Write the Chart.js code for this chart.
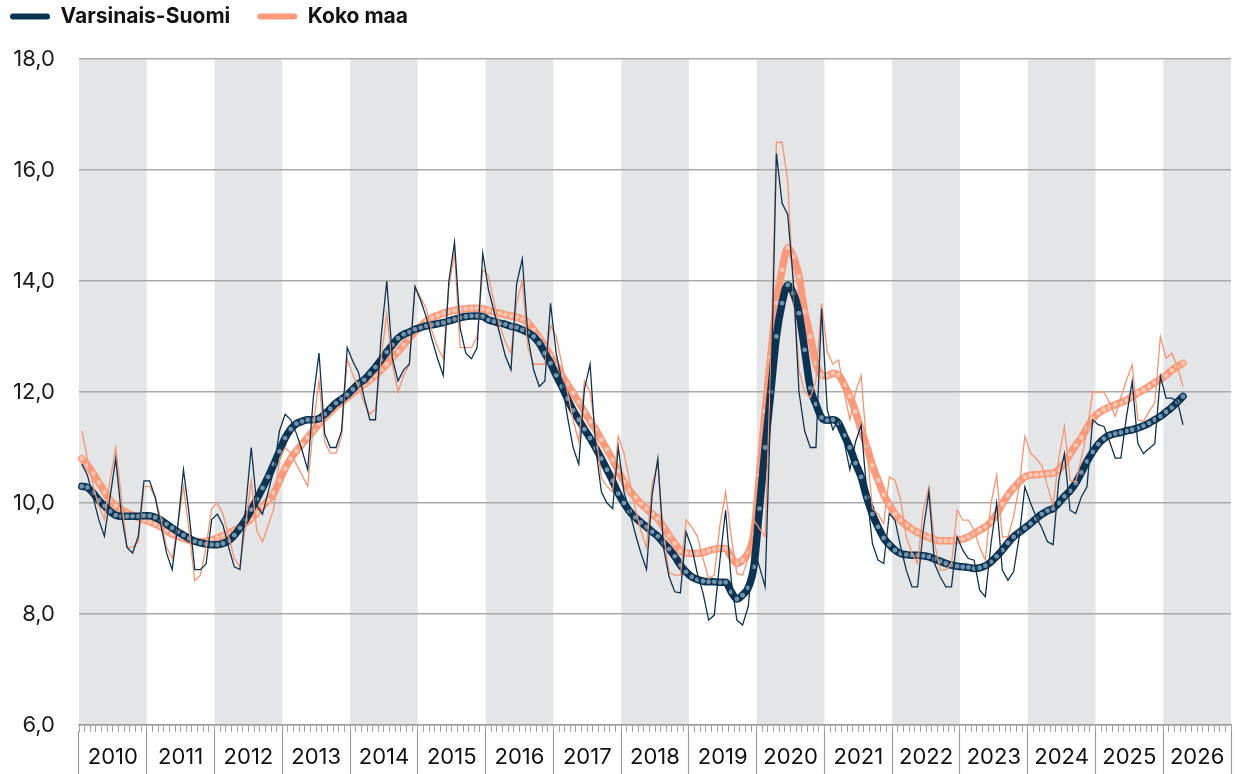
<!DOCTYPE html>
<html>
<head>
<meta charset="utf-8">
<script src="https://cdn.jsdelivr.net/npm/chart.js@4.4.1/dist/chart.umd.min.js"></script>
<style>
  html, body { margin: 0; padding: 0; background: #fff; }
  #wrap { position: relative; width: 1235px; height: 774px; }
</style>
</head>
<body>
<div id="wrap"><canvas id="unemploymentChart"></canvas></div>
<script>
  // years on the axis, data runs monthly from Jan 2010 to Apr 2026
  const yearLabels = ['2010', '2011', '2012', '2013', '2014', '2015', '2016', '2017', '2018',
                      '2019', '2020', '2021', '2022', '2023', '2024', '2025', '2026'];
  const monthNames = ['01', '02', '03', '04', '05', '06', '07', '08', '09', '10', '11', '12'];
  const monthLabels = yearLabels.flatMap(y => monthNames.map(m => y + '-' + m));

  const vsRaw = [
    10.7, 10.5, 10.1, 9.7, 9.4, 10.1, 10.8, 9.8, 9.2, 9.1, 9.4, 10.4,
    10.4, 10.1, 9.6, 9.1, 8.8, 9.6, 10.6, 9.8, 8.8, 8.8, 8.9, 9.7,
    9.8, 9.6, 9.2, 8.85, 8.8, 9.9, 11.0, 9.95, 9.8, 10.2, 10.6, 11.3,
    11.6, 11.5, 11.25, 10.95, 10.6, 11.9, 12.7, 11.25, 11.0, 11.0, 11.3, 12.8,
    12.55, 12.35, 11.9, 11.5, 11.5, 13.0, 14.0, 12.6, 12.2, 12.4, 12.5, 13.9,
    13.65, 13.35, 12.95, 12.6, 12.3, 14.0, 14.7, 13.15, 12.7, 12.6, 12.8, 14.5,
    13.85, 13.45, 13.05, 12.65, 12.4, 13.95, 14.4, 13.0, 12.4, 12.1, 12.2, 13.6,
    12.7, 12.2, 11.55, 11.0, 10.7, 12.05, 12.5, 11.0, 10.2, 10.0, 9.9, 11.0,
    10.2, 9.85, 9.45, 9.1, 8.8, 10.15, 10.8, 9.2, 8.67, 8.4, 8.38, 9.48,
    9.2, 8.73, 8.38, 7.89, 7.98, 8.97, 9.87, 8.6, 7.89, 7.8, 8.13, 9.2,
    8.85, 8.49, 11.8, 16.3, 15.4, 15.2, 14.0, 12.0, 11.3, 11.0, 11.0, 13.5,
    11.68, 11.32, 11.5, 11.1, 10.6, 11.1, 11.4, 10.2, 9.27, 8.97, 8.91, 9.81,
    9.69, 9.21, 8.79, 8.49, 8.49, 9.51, 10.2, 8.91, 8.67, 8.49, 8.49, 9.39,
    9.15, 9.0, 8.97, 8.43, 8.31, 9.27, 10.0, 8.79, 8.61, 8.76, 9.39, 10.29,
    10.0, 9.75, 9.55, 9.3, 9.25, 10.41, 10.89, 9.87, 9.81, 10.11, 10.29, 11.5,
    11.41, 11.38, 11.11, 10.81, 10.81, 11.56, 12.19, 11.07, 10.89, 10.98, 11.07, 12.28,
    11.89, 11.89, 11.83, 11.41
  ];

  const kmRaw = [
    11.3, 10.8, 10.3, 9.95, 9.7, 10.4, 11.0, 10.1, 9.2, 9.2, 9.3, 10.3,
    10.3, 10.1, 9.7, 9.2, 9.0, 9.6, 10.3, 9.5, 8.6, 8.7, 9.2, 9.9,
    10.0, 9.8, 9.4, 9.0, 8.85, 9.6, 10.4, 9.5, 9.3, 9.6, 9.9, 10.8,
    11.0, 10.9, 10.7, 10.5, 10.3, 11.4, 12.2, 11.1, 10.9, 10.9, 11.2, 12.6,
    12.3, 12.1, 11.8, 11.6, 11.7, 12.6, 13.4, 12.5, 12.0, 12.3, 12.5, 13.9,
    13.7, 13.5, 13.1, 12.8, 12.6, 13.9, 14.5, 12.8, 12.8, 12.8, 13.0, 14.2,
    14.1, 13.6, 13.2, 12.9, 12.7, 13.6, 14.0, 12.8, 12.5, 12.5, 12.5, 13.2,
    13.0, 12.5, 12.0, 11.5, 11.1, 12.2, 12.0, 11.3, 10.45, 10.3, 10.2, 11.2,
    10.9, 10.4, 9.9, 9.5, 9.2, 10.35, 10.7, 9.45, 8.75, 8.7, 8.7, 9.7,
    9.57, 9.4, 9.0, 8.64, 8.7, 9.6, 10.2, 9.4, 8.73, 8.7, 9.0, 9.69,
    9.54, 9.39, 12.5, 16.5, 16.5, 15.8, 13.8, 12.4, 12.0, 11.9, 12.2, 13.6,
    12.73, 12.5, 12.58, 12.0, 11.5, 12.0, 12.3, 11.0, 9.9, 9.8, 9.63, 10.47,
    10.41, 10.05, 9.39, 9.1, 8.91, 9.87, 10.29, 9.27, 8.79, 8.79, 8.91, 9.87,
    9.69, 9.69, 9.51, 9.2, 8.97, 10.0, 10.5, 9.39, 9.39, 9.75, 10.3, 11.2,
    10.9, 10.8, 10.68, 10.3, 9.96, 10.8, 11.38, 10.41, 10.38, 10.8, 11.3, 12.0,
    12.0, 12.0, 11.8, 11.56, 11.9, 12.22, 12.49, 11.5, 11.47, 11.65, 11.8, 13.0,
    12.61, 12.7, 12.46, 12.1
  ];

  const vsTrend = [
    10.3, 10.28, 10.18, 10.05, 9.95, 9.85, 9.78, 9.76, 9.76, 9.76, 9.76, 9.77,
    9.77, 9.74, 9.69, 9.62, 9.55, 9.48, 9.42, 9.36, 9.31, 9.28, 9.26, 9.25,
    9.25, 9.27, 9.32, 9.42, 9.55, 9.7, 9.88, 10.07, 10.27, 10.47, 10.7, 10.93,
    11.17, 11.33, 11.43, 11.47, 11.5, 11.5, 11.52, 11.6, 11.7, 11.8, 11.87, 11.95,
    12.05, 12.15, 12.22, 12.33, 12.45, 12.58, 12.72, 12.85, 12.97, 13.04, 13.08, 13.13,
    13.16, 13.19, 13.21, 13.23, 13.25, 13.28, 13.31, 13.34, 13.36, 13.37, 13.37, 13.36,
    13.3, 13.27, 13.24, 13.22, 13.18, 13.16, 13.12, 13.07, 13.0, 12.88, 12.7, 12.52,
    12.3, 12.1, 11.88, 11.67, 11.5, 11.33, 11.17, 10.99, 10.8, 10.6, 10.4, 10.17,
    10.0, 9.85, 9.74, 9.65, 9.57, 9.48, 9.4, 9.28, 9.17, 9.04, 8.88, 8.76,
    8.67, 8.62, 8.59, 8.58, 8.58, 8.57, 8.57, 8.4, 8.27, 8.34, 8.47, 8.85,
    9.9, 11.0, 12.0, 13.0, 13.6, 13.93, 13.78, 13.42, 12.76, 12.07, 11.78, 11.54,
    11.49, 11.5, 11.44, 11.22, 11.0, 10.72, 10.47, 10.1, 9.8, 9.57, 9.37, 9.25,
    9.15, 9.09, 9.07, 9.06, 9.06, 9.05, 9.03, 8.99, 8.95, 8.91, 8.88, 8.86,
    8.85, 8.84, 8.82, 8.83, 8.87, 8.94, 9.04, 9.15, 9.28, 9.39, 9.47, 9.55,
    9.63, 9.72, 9.8, 9.86, 9.9, 10.0, 10.12, 10.22, 10.36, 10.55, 10.75, 10.92,
    11.06, 11.16, 11.22, 11.25, 11.27, 11.3, 11.32, 11.35, 11.39, 11.44, 11.5, 11.56,
    11.64, 11.72, 11.82, 11.92
  ];

  const kmTrend = [
    10.8, 10.68, 10.53, 10.37, 10.2, 10.05, 9.95, 9.88, 9.82, 9.78, 9.74, 9.7,
    9.66, 9.62, 9.57, 9.5, 9.44, 9.4, 9.36, 9.33, 9.31, 9.3, 9.31, 9.33,
    9.37, 9.41, 9.45, 9.51, 9.56, 9.64, 9.72, 9.82, 9.94, 10.05, 10.18, 10.4,
    10.62, 10.8, 10.94, 11.06, 11.18, 11.3, 11.43, 11.54, 11.64, 11.74, 11.82, 11.9,
    11.98, 12.06, 12.14, 12.22, 12.3, 12.4, 12.5, 12.62, 12.73, 12.85, 12.97, 13.09,
    13.18, 13.28, 13.34, 13.38, 13.42, 13.45, 13.47, 13.49, 13.5, 13.51, 13.51, 13.5,
    13.47, 13.44, 13.42, 13.39, 13.37, 13.35, 13.31, 13.25, 13.12, 12.98, 12.82, 12.65,
    12.48, 12.3, 12.14, 11.98, 11.82, 11.64, 11.47, 11.32, 11.14, 10.96, 10.78, 10.58,
    10.38, 10.22, 10.1, 9.99, 9.9, 9.8, 9.72, 9.57, 9.41, 9.27, 9.14, 9.1,
    9.09, 9.09, 9.11, 9.14, 9.17, 9.18, 9.18, 9.03, 8.91, 8.97, 9.1, 9.45,
    10.5, 11.65, 12.64, 13.6, 14.2, 14.6, 14.44, 14.08, 13.45, 13.0, 12.52, 12.31,
    12.29, 12.34, 12.31, 12.13, 11.92, 11.65, 11.32, 11.02, 10.68, 10.41, 10.15, 9.97,
    9.8, 9.69, 9.6, 9.53, 9.47, 9.42, 9.38, 9.34, 9.32, 9.32, 9.32, 9.33,
    9.35, 9.39, 9.45, 9.51, 9.57, 9.66, 9.8, 9.98, 10.14, 10.27, 10.38, 10.47,
    10.5, 10.51, 10.52, 10.53, 10.54, 10.6, 10.72, 10.88, 11.04, 11.18, 11.35, 11.52,
    11.62, 11.68, 11.73, 11.77, 11.81, 11.85, 11.92, 11.98, 12.04, 12.1, 12.17, 12.23,
    12.3, 12.39, 12.46, 12.52
  ];

  const navy = '#0c3352';
  const salmon = '#f7936f';

  Chart.defaults.font.family = 'Inter';
  Chart.defaults.color = '#161616';

  // grey band behind every other year
  const yearBands = {
    id: 'yearBands',
    beforeDraw(chart) {
      const {ctx, chartArea, scales} = chart;
      const yrs = scales.years;
      const w = yrs.width / yearLabels.length;
      ctx.save();
      ctx.fillStyle = '#e4e5e7';
      yearLabels.forEach((y, i) => {
        if (i % 2 !== 0) return;
        const left = yrs.getPixelForValue(i) - w / 2;
        ctx.fillRect(left, chartArea.top, w, chartArea.bottom - chartArea.top);
      });
      ctx.restore();
    }
  };

  // more room under the legend
  const legendGap = {
    id: 'legendGap',
    beforeInit(chart) {
      const fit = chart.legend.fit;
      chart.legend.fit = function () {
        fit.call(this);
        this.height = 80;
      };
    }
  };

  const ctx = document.getElementById('unemploymentChart');
  const unemploymentChart = new Chart(ctx, {
    type: 'line',
    data: {
      labels: monthLabels,
      datasets: [{
          label: 'Varsinais-Suomi (kk)',
          data: vsRaw,
          borderColor: navy,
          backgroundColor: navy,
          borderWidth: 1.3,
          pointRadius: 0
        }, {
          label: 'Koko maa (kk)',
          data: kmRaw,
          borderColor: salmon,
          backgroundColor: salmon,
          borderWidth: 1.3,
          pointRadius: 0
        }, {
          label: 'Varsinais-Suomi',
          data: vsTrend,
          borderColor: navy,
          backgroundColor: navy,
          borderWidth: 7.5,
          borderCapStyle: 'round',
          borderJoinStyle: 'round',
          cubicInterpolationMode: 'monotone',
          pointRadius: 2.4,
          pointBorderWidth: 0,
          pointBackgroundColor: '#7394ad'
        }, {
          label: 'Koko maa',
          data: kmTrend,
          borderColor: '#f89a7b',
          backgroundColor: '#f89a7b',
          borderWidth: 7.5,
          borderCapStyle: 'round',
          borderJoinStyle: 'round',
          cubicInterpolationMode: 'monotone',
          pointRadius: 2.4,
          pointBorderWidth: 0,
          pointBackgroundColor: '#fbc6b2'
        }]
    },
    options: {
      responsive: true,
      maintainAspectRatio: false,
      animation: false,
      events: [],
      layout: {
        padding: { left: -17, top: -21, right: 3, bottom: 0 }
      },
      scales: {
        x: {
          type: 'category',
          offset: true,
          grid: {
            offset: true,
            drawOnChartArea: false,
            tickLength: 7,
            color: '#a3a3a3',
            tickColor: '#a3a3a3',
            lineWidth: 1
          },
          border: { display: true, color: '#9c9c9c', width: 1.5 },
          ticks: { display: false, autoSkip: false },
          afterFit: s => { s.height = 6; }
        },
        years: {
          type: 'category',
          axis: 'x',
          position: 'bottom',
          labels: yearLabels,
          offset: true,
          grid: {
            offset: true,
            drawOnChartArea: false,
            tickLength: 60,
            tickColor: '#9c9c9c',
            tickWidth: 1.2
          },
          border: { display: false },
          ticks: {
            autoSkip: false,
            maxRotation: 0,
            padding: -47,
            color: '#111',
            font: { size: 22 }
          },
          afterFit: s => { s.height = 43; }
        },
        y: {
          min: 6,
          max: 18,
          ticks: {
            stepSize: 2,
            padding: 24,
            color: '#1b1b1b',
            font: { size: 22 },
            callback: v => v.toFixed(1).replace('.', ',')
          },
          grid: { color: '#a9a9a9', lineWidth: 1.5, drawTicks: false },
          border: { display: false },
          afterFit: s => { s.width = 96; }
        }
      },
      plugins: {
        tooltip: { enabled: false },
        legend: {
          position: 'top',
          align: 'start',
          labels: {
            boxWidth: 40,
            boxHeight: 6,
            useBorderRadius: true,
            borderRadius: 3,
            padding: 27,
            color: '#111',
            font: { size: 21, weight: '700' },
            filter: item => item.datasetIndex > 1,
            generateLabels: chart => Chart.defaults.plugins.legend.labels.generateLabels(chart)
              .map(item => Object.assign(item, { lineWidth: 0 }))
          }
        }
      }
    },
    plugins: [yearBands, legendGap]
  });
</script>
</body>
</html>
